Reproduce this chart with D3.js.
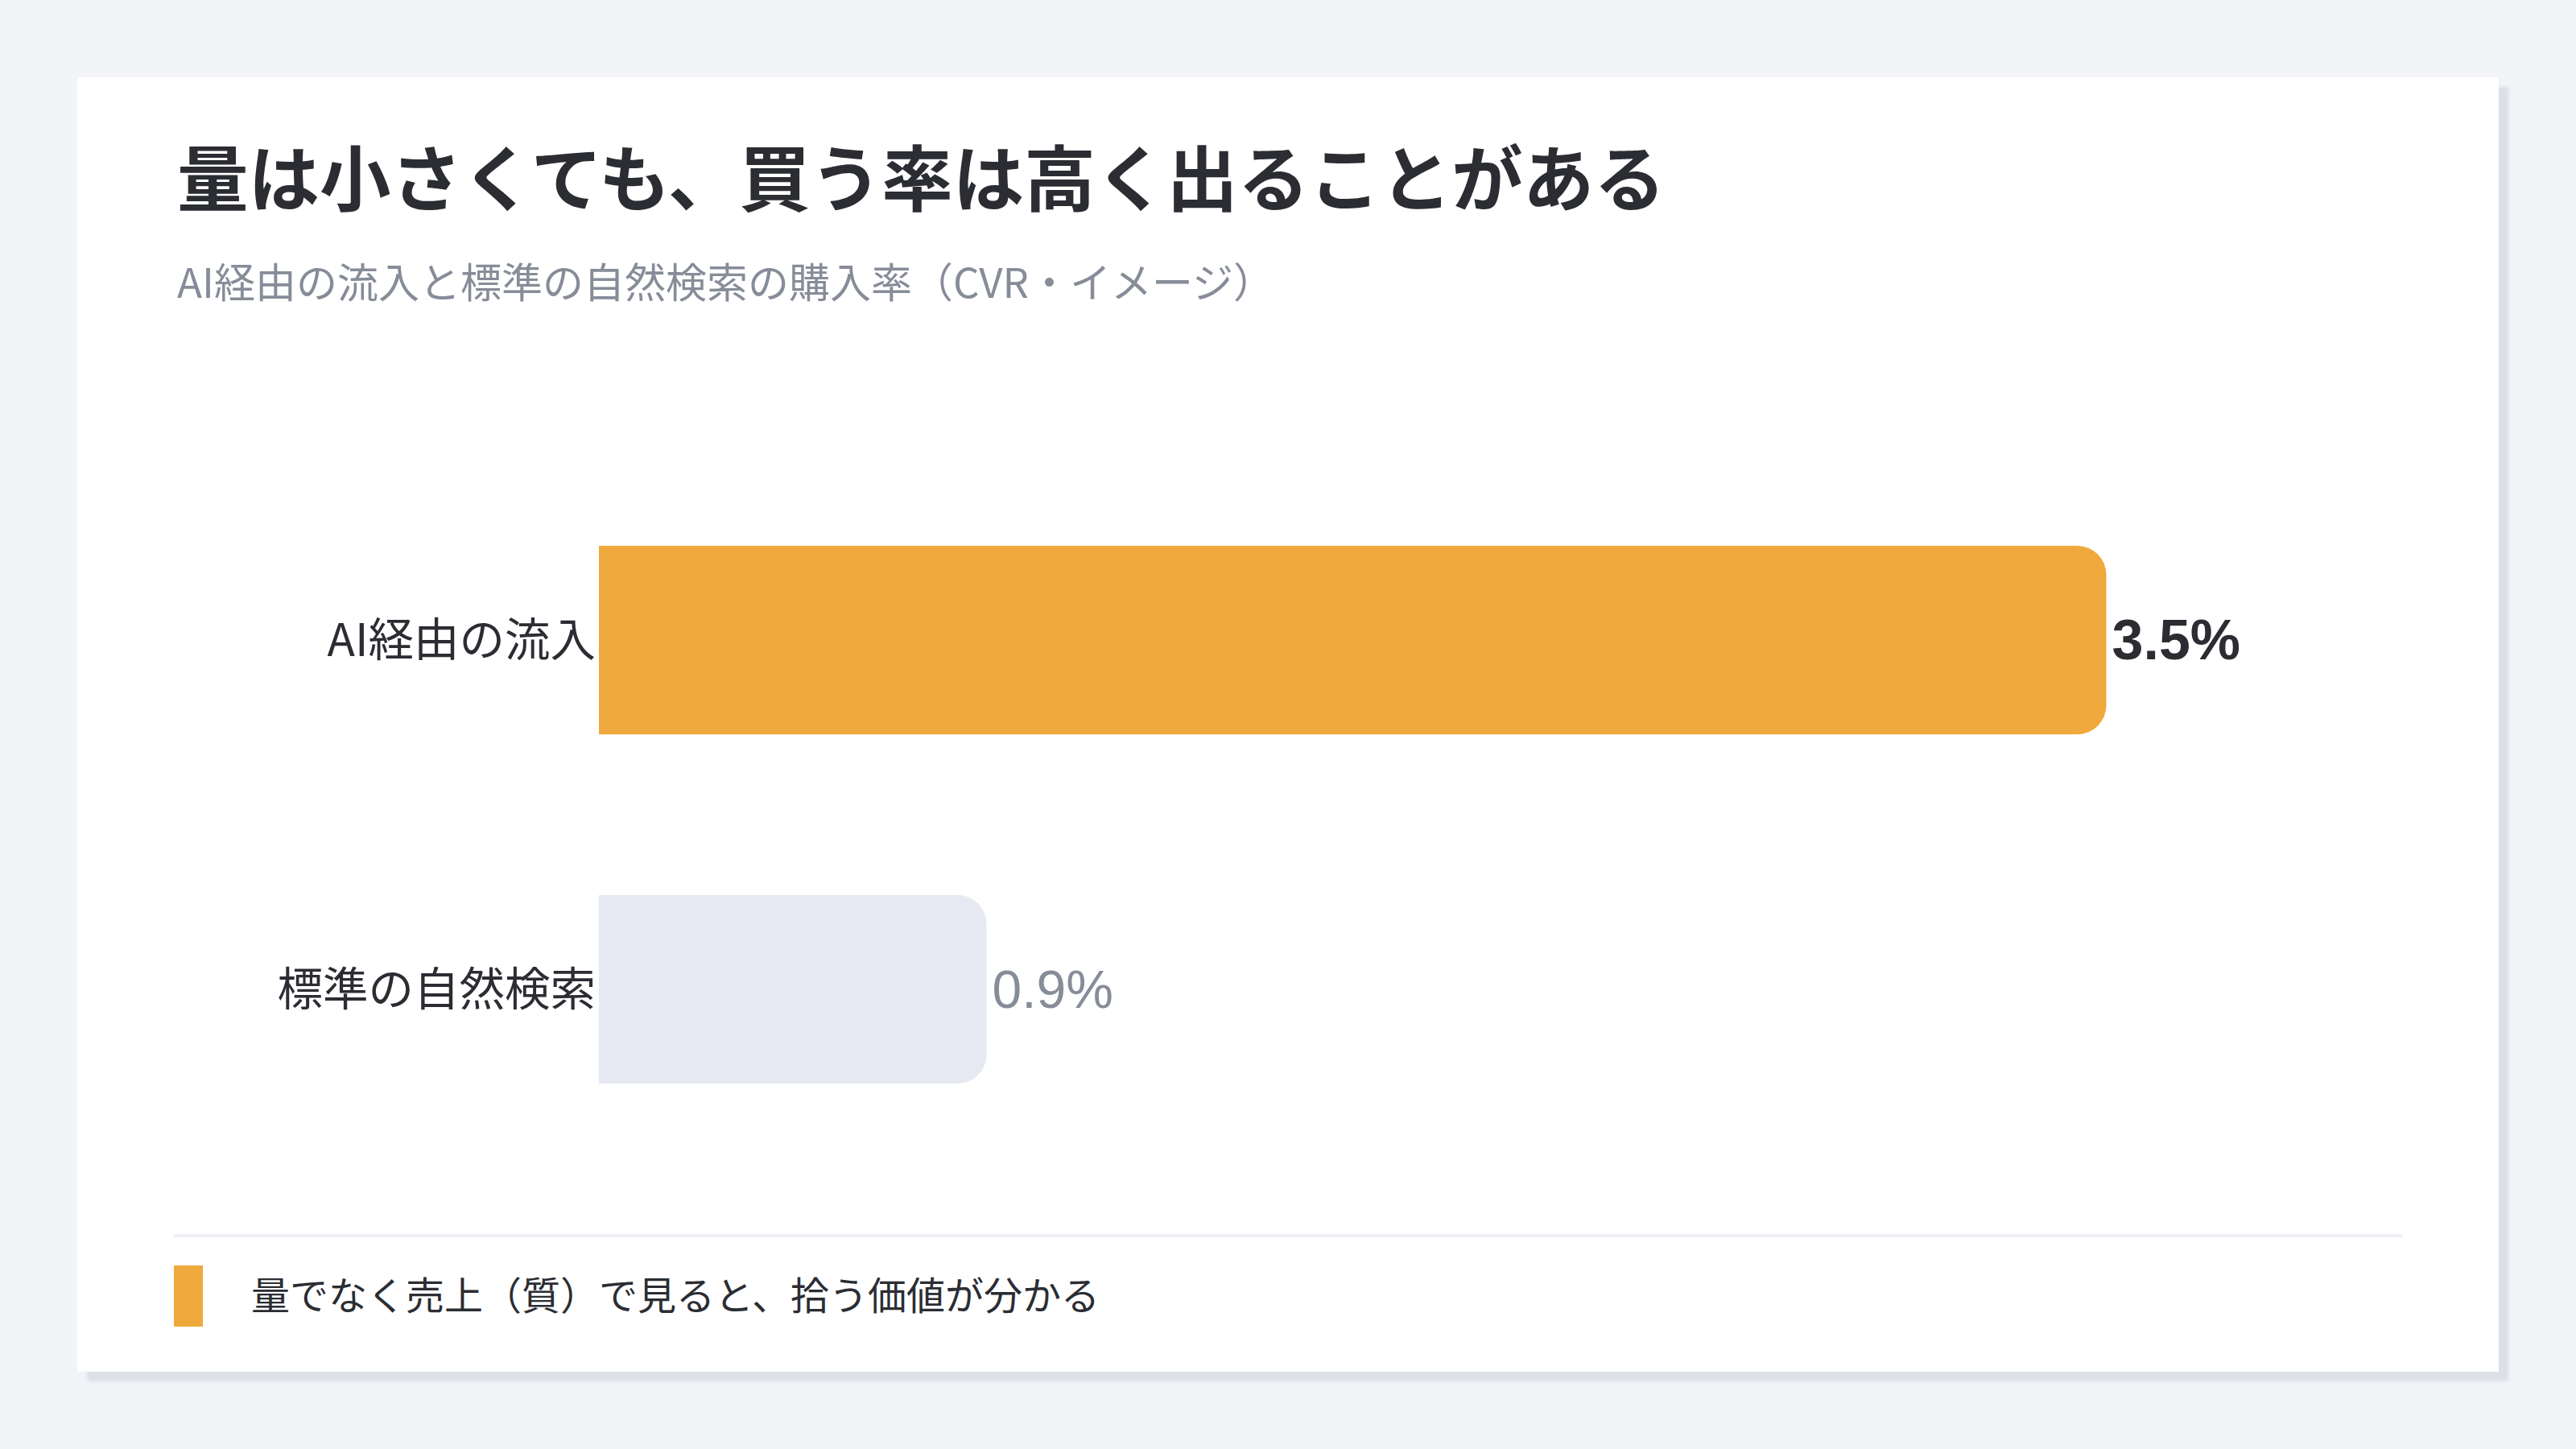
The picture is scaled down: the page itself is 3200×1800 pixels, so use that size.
<!DOCTYPE html>
<html lang="ja">
<head>
<meta charset="utf-8">
<script src="https://cdn.jsdelivr.net/npm/d3@7"></script>
<style>
  html, body { margin: 0; padding: 0; background: #f3f4f8; }
  svg { display: block; }
</style>
</head>
<body>
<div id="chart"></div>
<script>
const title = "量は小さくても、買う率は高く出ることがある";
const subtitle = "AI経由の流入と標準の自然検索の購入率（CVR・イメージ）";
const categories = ["AI経由の流入", "標準の自然検索"];
const values = [3.5, 0.9];
const valueLabels = ["3.5%", "0.9%"];
const legendText = "量でなく売上（質）で見ると、拾う価値が分かる";

const width = 3200;
const height = 1800;
const jp = '"Noto Sans CJK JP", "Noto Sans", sans-serif';
const num = '"Liberation Sans", Arial, "Noto Sans CJK JP", sans-serif';

const svg = d3.select("#chart")
    .append("svg")
    .attr("width", width)
    .attr("height", height);

const defs = svg.append("defs");
defs.append("filter")
    .attr("id", "soft")
    .attr("x", "-5%").attr("y", "-5%")
    .attr("width", "110%").attr("height", "110%")
    .append("feGaussianBlur")
    .attr("stdDeviation", 2);

// background + card
svg.append("rect")
    .attr("width", width)
    .attr("height", height)
    .attr("fill", "#f3f4f8");

svg.append("rect")
    .attr("x", 108).attr("y", 108)
    .attr("width", 3008).attr("height", 1608)
    .attr("fill", "#dcdfe6")
    .attr("filter", "url(#soft)");

svg.append("rect")
    .attr("x", 96).attr("y", 96)
    .attr("width", 3008).attr("height", 1608)
    .attr("fill", "#ffffff");

// headings
svg.append("text")
    .attr("x", 220)
    .attr("y", 255)
    .attr("font-family", jp)
    .attr("font-weight", 700)
    .attr("font-size", 88.5)
    .attr("fill", "#2b2d33")
    .text(title);

svg.append("text")
    .attr("x", 220)
    .attr("y", 370)
    .attr("font-family", jp)
    .attr("font-weight", 400)
    .attr("font-size", 51)
    .attr("fill", "#868c98")
    .text(subtitle);

// scales
const x = d3.scaleLinear()
    .domain([0, 4])
    .range([744, 2884]);

const y = d3.scaleBand()
    .domain(categories)
    .range([461, 1563])
    .paddingInner(0.46)
    .paddingOuter(0.5);

const data = categories.map((c, i) => ({ cat: c, value: values[i], label: valueLabels[i], i }));
const barColor = ["#f0a93c", "#e6e9f1"];
const r = 36;

// bar with rounded right end only
const barPath = d => {
    const x0 = x(0), x1 = x(d.value);
    const y0 = y(d.cat), y1 = y0 + y.bandwidth();
    return `M${x0},${y0}H${x1 - r}A${r},${r} 0 0 1 ${x1},${y0 + r}` +
        `V${y1 - r}A${r},${r} 0 0 1 ${x1 - r},${y1}H${x0}Z`;
};

const bars = svg.append("g");

bars.selectAll("path")
    .data(data)
    .enter()
    .append("path")
    .attr("d", barPath)
    .attr("fill", d => barColor[d.i]);

// category labels
bars.selectAll(".cat")
    .data(data)
    .enter()
    .append("text")
    .attr("class", "cat")
    .attr("x", x(0) - 4)
    .attr("y", d => y(d.cat) + y.bandwidth() / 2 + 20)
    .attr("text-anchor", "end")
    .attr("font-family", jp)
    .attr("font-size", 56.5)
    .attr("fill", "#2b2d33")
    .text(d => d.cat);

// value labels
bars.selectAll(".val")
    .data(data)
    .enter()
    .append("text")
    .attr("class", "val")
    .attr("x", d => x(d.value) + 7)
    .attr("y", d => y(d.cat) + y.bandwidth() / 2 + (d.i === 0 ? 24 : 23))
    .attr("font-family", num)
    .attr("font-weight", d => d.i === 0 ? 700 : 400)
    .attr("font-size", d => d.i === 0 ? 70 : 66)
    .attr("fill", d => d.i === 0 ? "#2b2d33" : "#878c99")
    .text(d => d.label);

// footer
svg.append("rect")
    .attr("x", 216).attr("y", 1533)
    .attr("width", 2768).attr("height", 4)
    .attr("fill", "#eef0f3");

svg.append("rect")
    .attr("x", 216).attr("y", 1572)
    .attr("width", 36).attr("height", 76)
    .attr("fill", "#f0a93c");

svg.append("text")
    .attr("x", 312)
    .attr("y", 1627)
    .attr("font-family", jp)
    .attr("font-size", 48)
    .attr("fill", "#2b2d33")
    .text(legendText);
</script>
</body>
</html>
